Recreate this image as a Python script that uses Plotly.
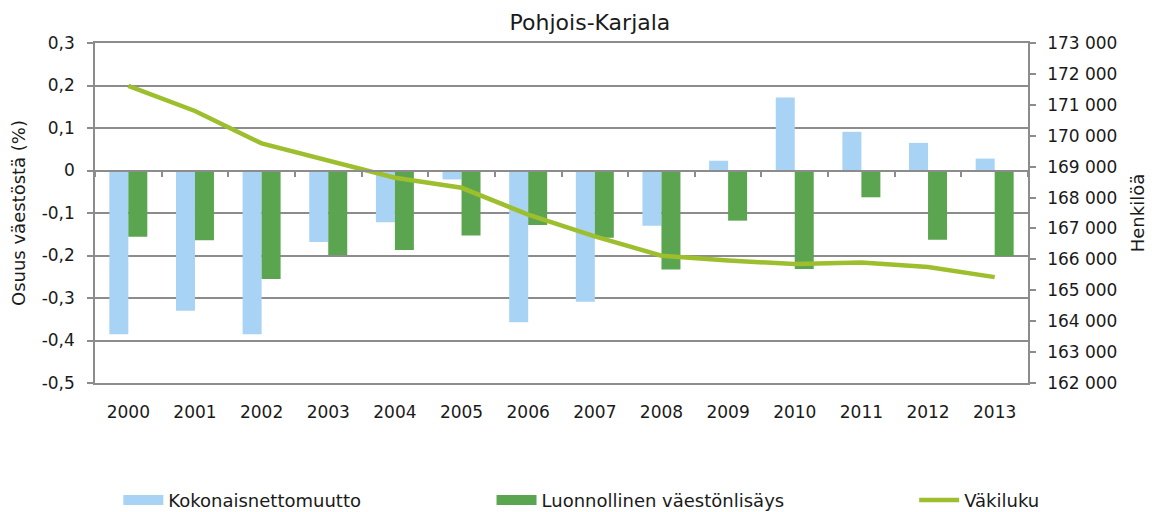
import plotly.graph_objects as go

years = ["2000", "2001", "2002", "2003", "2004", "2005", "2006",
         "2007", "2008", "2009", "2010", "2011", "2012", "2013"]
nettomuutto = [-0.385, -0.330, -0.385, -0.168, -0.122, -0.021, -0.357,
               -0.309, -0.130, 0.023, 0.172, 0.091, 0.065, 0.028]
luonnollinen = [-0.156, -0.164, -0.255, -0.199, -0.187, -0.153, -0.128,
                -0.158, -0.233, -0.118, -0.232, -0.063, -0.163, -0.201]
vakiluku = [171610, 170800, 169753, 169180, 168640, 168315, 167450,
            166745, 166120, 165965, 165847, 165900, 165750, 165425]

left_ticks = [-0.5, -0.4, -0.3, -0.2, -0.1, 0, 0.1, 0.2, 0.3]
left_labels = ["-0,5", "-0,4", "-0,3", "-0,2", "-0,1", "0", "0,1", "0,2", "0,3"]
right_ticks = list(range(162000, 174000, 1000))
right_labels = ["162 000", "163 000", "164 000", "165 000", "166 000", "167 000",
                "168 000", "169 000", "170 000", "171 000", "172 000", "173 000"]

BLUE = "#A8D3F4"
GREEN = "#5BA550"
LINE = "#9DBF2E"
GRID = "#8C8C8C"
FONT = "DejaVu Sans"
TXT = "#1a1a1a"
TICKSIZE = 17

fig = go.Figure()
fig.add_trace(go.Bar(x=years, y=nettomuutto, name="Kokonaisnettomuutto",
                     marker=dict(color=BLUE, line=dict(width=0)), showlegend=False))
fig.add_trace(go.Bar(x=years, y=luonnollinen, name="Luonnollinen väestönlisäys",
                     marker=dict(color=GREEN, line=dict(width=0)), showlegend=False))
fig.add_trace(go.Scatter(x=years, y=vakiluku, name="Väkiluku", mode="lines",
                         line=dict(color=LINE, width=4.5), xaxis="x2", yaxis="y2",
                         showlegend=False))

# legend entries
fig.add_trace(go.Scatter(x=[None], y=[None], mode="lines", name="Kokonaisnettomuutto",
                         line=dict(color=BLUE, width=14), legend="legend"))
fig.add_trace(go.Scatter(x=[None], y=[None], mode="lines", name="Luonnollinen väestönlisäys",
                         line=dict(color=GREEN, width=14), legend="legend2"))
fig.add_trace(go.Scatter(x=[None], y=[None], mode="lines", name="Väkiluku",
                         line=dict(color=LINE, width=4.5), legend="legend3"))

y0frac = (0 - (-0.5)) / 0.8
leg_common = dict(orientation="h", yanchor="middle", y=-0.345, xanchor="left",
                  font=dict(family=FONT, size=18, color=TXT), bgcolor="rgba(0,0,0,0)",
                  itemwidth=40)

# page body adds an 8px offset; margins compensate so the plot lands where the reference's does
fig.update_layout(
    width=1157, height=512,
    margin=dict(l=87, r=137, t=35, b=137, autoexpand=False),
    paper_bgcolor="white", plot_bgcolor="white",
    font=dict(family=FONT, size=TICKSIZE, color=TXT),
    title=dict(text="Pohjois-Karjala", x=0.503, xanchor="center", y=0.972, yanchor="middle",
               font=dict(family=FONT, size=22, color=TXT)),
    barmode="group", bargap=0.43, bargroupgap=0,
    xaxis=dict(type="category", categoryarray=years, showgrid=False,
               ticks="outside", ticklen=13, tickcolor="rgba(0,0,0,0)",
               showline=True, linecolor=GRID, linewidth=1.5, mirror=True,
               range=[-0.5, 13.5],
               tickfont=dict(family=FONT, size=TICKSIZE, color=TXT)),
    xaxis2=dict(type="category", categoryarray=years, overlaying="x", anchor="free",
                position=y0frac, showticklabels=False, showgrid=False,
                ticks="outside", tickson="boundaries", ticklen=5, tickwidth=1.5,
                tickcolor=GRID, showline=True, linecolor=GRID, linewidth=2,
                range=[-0.5, 13.5]),
    yaxis=dict(range=[-0.5, 0.3], tickvals=left_ticks, ticktext=left_labels,
               showgrid=True, gridcolor=GRID, gridwidth=1.5, zeroline=False,
               showline=True, linecolor=GRID, linewidth=1.5,
               ticks="outside", ticklen=6, tickwidth=1.5, tickcolor=GRID,
               ticklabelstandoff=9,
               title=dict(text="Osuus väestöstä (%)", standoff=12,
                          font=dict(family=FONT, size=18, color=TXT)),
               tickfont=dict(family=FONT, size=TICKSIZE, color=TXT)),
    yaxis2=dict(range=[162000, 173000], tickvals=right_ticks, ticktext=right_labels,
                overlaying="y", side="right", anchor="x2", showgrid=False, zeroline=False,
                showline=True, linecolor=GRID, linewidth=1.5,
                ticks="outside", ticklen=6, tickwidth=1.5, tickcolor=GRID,
                ticklabelstandoff=8,
                title=dict(text="Henkilöä", standoff=15,
                           font=dict(family=FONT, size=18, color=TXT)),
                tickfont=dict(family=FONT, size=TICKSIZE, color=TXT)),
    legend=dict(x=0.025, **leg_common),
    legend2=dict(x=0.425, **leg_common),
    legend3=dict(x=0.878, **leg_common),
)

fig.write_html("out.html")
